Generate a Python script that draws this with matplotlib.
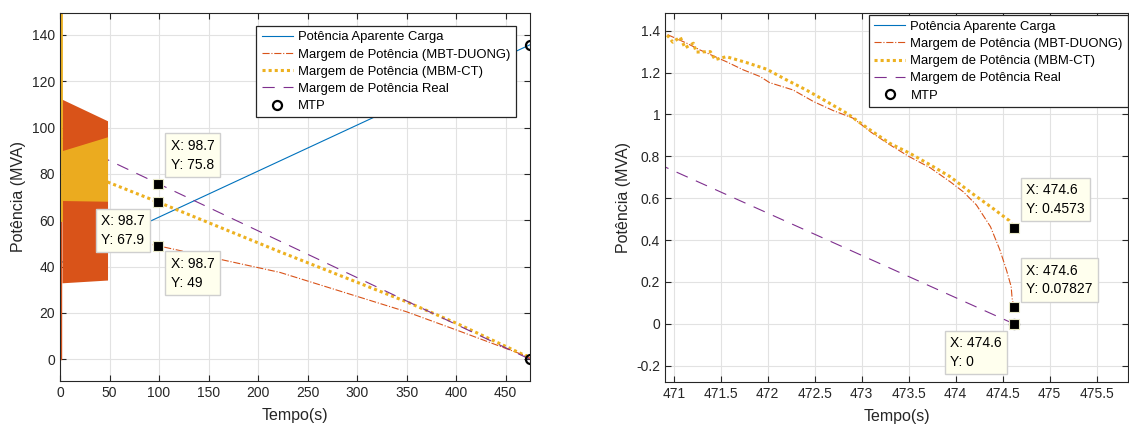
import matplotlib
matplotlib.use("Agg")
import matplotlib.pyplot as plt
from matplotlib import ticker

plt.rcParams['font.family'] = ['Liberation Sans', 'DejaVu Sans']

# --- dados ---
t_load = [0, 474.62]
s_load = [41.5, 135.7]

t_duong = [47, 98.7, 222, 350, 400.6, 470.91, 471.14, 471.28, 471.56, 471.74, 471.92,
           472.02, 472.27, 472.49, 472.70, 472.91, 473.1, 473.3, 473.5, 473.73, 473.94,
           474.08, 474.22, 474.37, 474.47, 474.54, 474.59, 474.60, 474.62]
m_duong = [53.5, 49.0, 37.5, 20.5, 12.6, 1.386, 1.340, 1.308, 1.252, 1.213, 1.181,
           1.152, 1.117, 1.061, 1.018, 0.982, 0.915, 0.855, 0.800, 0.745, 0.679,
           0.631, 0.568, 0.464, 0.353, 0.257, 0.178, 0.122, 0.07827]

t_ct = [48, 98.7, 222, 350, 400.6, 470.91, 470.99, 471.07, 471.12, 471.21, 471.24,
        471.39, 471.44, 471.56, 471.78, 471.99, 472.20, 472.41, 472.63, 472.84, 473.09,
        473.30, 473.51, 473.73, 473.94, 474.15, 474.37, 474.57, 474.62]
m_ct = [76.5, 67.9, 46.4, 24.8, 15.5, 1.391, 1.345, 1.369, 1.318, 1.340, 1.298,
        1.300, 1.262, 1.276, 1.247, 1.216, 1.165, 1.117, 1.061, 1.006, 0.926,
        0.862, 0.815, 0.759, 0.703, 0.631, 0.560, 0.493, 0.4573]

t_real = [0, 474.62]
m_real = [95.8, 0]

t_mtp = [474.62, 474.62]
s_mtp = [135.7, 0]

# regiao oscilatoria no inicio da simulacao (envoltorias)
band_t = [2, 48]
duong_lo = [33.0, 34.2]
duong_hi = [112.2, 102.9]
ct_lo = [68.5, 68.2]
ct_hi = [90.0, 96.0]
spike_t = [0.6, 0.6]
duong_spike = [0, 112.2]
ct_spike = [60, 150]

# data tips
tips_left = [(98.7, 75.8), (98.7, 67.9), (98.7, 49)]
tips_right = [(474.62, 0.4573), (474.62, 0.07827), (474.62, 0)]

c_blue = '#0072BD'
c_orange = '#D95319'
c_yellow = '#EDB120'
c_purple = '#7E2F8E'

fig = plt.figure(figsize=(11.29, 4.29), dpi=100)
ax1 = fig.add_axes([0.05314, 0.11189, 0.41630, 0.85781])
ax2 = fig.add_axes([0.58902, 0.10886, 0.41010, 0.86154])


def draw(ax):
    ax.plot(t_load, s_load, color=c_blue, lw=0.8, label='Potência Aparente Carga')
    ax.plot(t_duong, m_duong, color=c_orange, lw=0.8, ls='-.',
            label='Margem de Potência (MBT-DUONG)')
    ax.plot(t_ct, m_ct, color=c_yellow, lw=2.2, ls=(0, (1, 1)),
            label='Margem de Potência (MBM-CT)')
    ax.plot(t_real, m_real, color=c_purple, lw=0.8, ls=(0, (11, 8)),
            label='Margem de Potência Real')
    ax.plot(t_mtp, s_mtp, 'o', ms=6.5, mfc='none', mec='k', mew=1.6, label='MTP')


def datatip(ax, x, y, txt, dx, dy, ha, va):
    ax.plot(x, y, 's', ms=7, mfc='k', mec='#E8E8C8', mew=0.8, zorder=6)
    ax.annotate(txt, (x, y), xytext=(dx, dy), textcoords='offset pixels',
                ha=ha, va=va, multialignment='left', fontsize=10, linespacing=1.45,
                zorder=7,
                bbox=dict(boxstyle='square,pad=0.38', fc='#FFFFEE', ec='#CFCFCF', lw=1))


def style(ax):
    ax.grid(True, color='#E2E2E2', lw=0.8)
    ax.set_axisbelow(True)
    ax.tick_params(direction='in', length=4, top=True, right=True,
                   labelsize=10, colors='#262626')
    for s in ax.spines.values():
        s.set_color('#262626')
        s.set_linewidth(0.8)
    ax.xaxis.set_major_formatter(ticker.FormatStrFormatter('%g'))
    ax.yaxis.set_major_formatter(ticker.FormatStrFormatter('%g'))
    ax.set_xlabel('Tempo(s)', fontsize=11.5, color='#262626', labelpad=6)
    ax.set_ylabel('Potência (MVA)', fontsize=11.5, color='#262626')


def legend(ax, anchor):
    leg = ax.legend(loc='upper right', bbox_to_anchor=anchor, borderaxespad=0,
                    fontsize=9.4, fancybox=False, edgecolor='#262626', framealpha=1,
                    handlelength=2.4, handletextpad=0.4, labelspacing=0.39,
                    borderpad=0.4)
    leg.get_frame().set_linewidth(0.9)


# grafico da esquerda
draw(ax1)
ax1.fill_between(band_t, duong_lo, duong_hi, color=c_orange, lw=0, zorder=2)
ax1.fill_between(band_t, ct_lo, ct_hi, color=c_yellow, lw=0, alpha=0.95, zorder=2.1)
ax1.plot(spike_t, duong_spike, color=c_orange, lw=1, zorder=2)
ax1.plot(spike_t, ct_spike, color=c_yellow, lw=2, zorder=2.2)
ax1.set_xlim(0, 474.62)
ax1.set_ylim(-9.36, 149.4)
ax1.set_xticks(range(0, 451, 50))
ax1.set_yticks(range(0, 141, 20))
style(ax1)
legend(ax1, (0.9696, 0.9647))

datatip(ax1, *tips_left[0], 'X: 98.7\nY: 75.8', 13, 12, 'left', 'bottom')
datatip(ax1, *tips_left[1], 'X: 98.7\nY: 67.9', -13, -12, 'right', 'top')
datatip(ax1, *tips_left[2], 'X: 98.7\nY: 49', 13, -11, 'left', 'top')

# grafico da direita (zoom no final)
draw(ax2)
ax2.set_xlim(470.9074, 475.833)
ax2.set_ylim(-0.279, 1.486)
ax2.set_xticks([471, 471.5, 472, 472.5, 473, 473.5, 474, 474.5, 475, 475.5])
ax2.set_yticks([-0.2, 0, 0.2, 0.4, 0.6, 0.8, 1, 1.2, 1.4])
style(ax2)
legend(ax2, (1.0, 0.993))

datatip(ax2, *tips_right[0], 'X: 474.6\nY: 0.4573', 12.5, 12, 'left', 'bottom')
datatip(ax2, *tips_right[1], 'X: 474.6\nY: 0.07827', 12.5, 11, 'left', 'bottom')
datatip(ax2, *tips_right[2], 'X: 474.6\nY: 0', -12, -12, 'right', 'top')

fig.savefig('out.png', dpi=100, facecolor='white')
